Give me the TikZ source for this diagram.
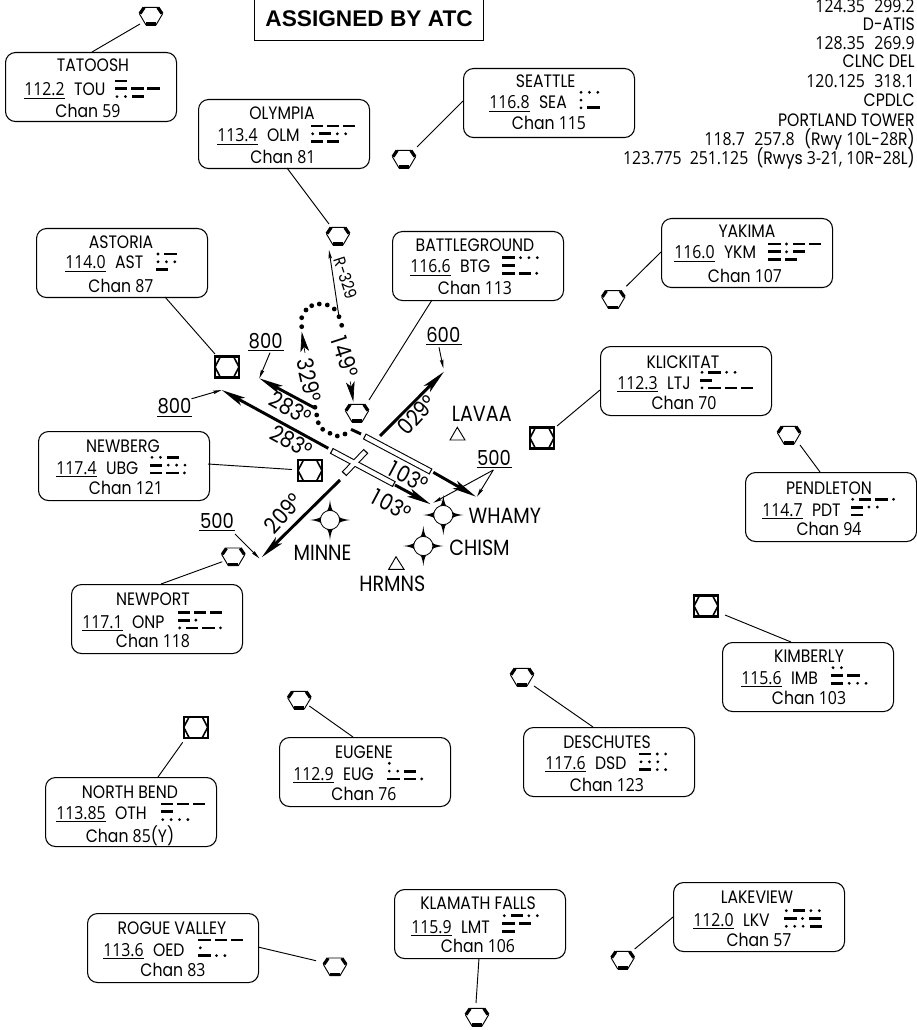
\documentclass[tikz,border=0pt]{standalone}
\usepackage{fontspec}
\setmainfont[FakeStretch=0.87]{Poppins}
\newfontfamily\numf[FakeStretch=0.88]{Open Sans}
\newfontfamily\boldf{Liberation Sans}
\usetikzlibrary{arrows.meta,calc}
\newsavebox\frqbox
\newcommand\frq[1]{\sbox\frqbox{\numf #1}\rlap{\rule[-2.4pt]{\wd\frqbox}{0.75pt}}\usebox\frqbox\hspace{7pt}}
\newcommand\chn[2][]{Chan {\numf #2}#1}
\newcommand\mrow[3]{\def\mx{#1}\def\my{#2}\mrowgo#3\relax}
\def\mrowgo#1{\ifx#1\relax\else\mel#1\expandafter\mrowgo\fi}
\def\mel#1{\if#1-\fill (\mx,\my-1.4) rectangle (\mx+12.3,\my+1.4);\pgfmathsetmacro\mx{\mx+16.2}\else\fill (\mx+2,\my) circle[radius=1.55];\pgfmathsetmacro\mx{\mx+8.4}\fi}
\newcommand\morse[5]{\mrow{#1}{#2}{#3}\mrow{#1}{#2+7.8}{#4}\mrow{#1}{#2+15.6}{#5}}
\newcommand\vorsym[3]{\node[symnode] (#1) at (#2,#3) {};
 \begin{scope}[shift={(#1)}]
 \draw[line width=.7pt] (-6.7,-8.7)--(6.7,-8.7)--(11.5,-2)--(5,9)--(-5,9)--(-11.5,-2)--cycle;
 \draw[line width=2.4pt] (-6.9,-8.4)--(-11,-2.4) (6.9,-8.4)--(11,-2.4);
 \draw[line width=2.4pt] (-5,8)--(5,8);
 \end{scope}}
\newcommand\sqsym[3]{\node[symnode] (#1) at (#2,#3) {};
 \begin{scope}[shift={(#1)}]
 \draw[line width=1.7pt] (-12,-10.5) rectangle (12,10.5);
 \draw[line width=1.2pt] (-12,0)--(-6.5,-10.5)--(6.5,-10.5)--(12,0)--(6.5,10.5)--(-6.5,10.5)--cycle;
 \end{scope}}
\newcommand\fixsym[3]{\node[symnode] (#1) at (#2,#3) {};
 \begin{scope}[shift={(#1)}]
 \fill (0,-20) .. controls (1,-12) and (2,-8) .. (6.8,-6.8) .. controls (8,-2) and (12,-1) .. (20,0)
  .. controls (12,1) and (8,2) .. (6.8,6.8) .. controls (2,8) and (1,12) .. (0,20)
  .. controls (-1,12) and (-2,8) .. (-6.8,6.8) .. controls (-8,2) and (-12,1) .. (-20,0)
  .. controls (-12,-1) and (-8,-2) .. (-6.8,-6.8) .. controls (-2,-8) and (-1,-12) .. (0,-20) -- cycle;
 \draw[fill=white,line width=.6pt] (0,0) circle[radius=9.6];
 \end{scope}}
\begin{document}
\begin{tikzpicture}[x=0.75pt,y=-0.75pt,
 navbox/.style={draw,line width=.8pt,rounded corners=7.5pt,minimum width=128.25pt,minimum height=51.75pt,anchor=north west,inner sep=0pt},
 navtitle/.style={anchor=base,inner sep=0pt,yshift=-.75pt,font=\fontsize{13.5}{15}\selectfont},
 navfreq/.style={anchor=base west,inner sep=0pt,yshift=-.75pt,font=\fontsize{13.5}{15}\selectfont},
 symnode/.style={inner sep=0pt,minimum size=15pt,circle},
 conn/.style={line width=.7pt},
 bigl/.style={inner sep=0pt,font=\fontsize{15.5}{18}\selectfont},
 rotl/.style={inner sep=0pt,font=\fontsize{17}{20}\selectfont},
 fixl/.style={anchor=base west,inner sep=0pt,font=\fontsize{16.5}{18}\selectfont},
 comm/.style={anchor=base east,inner sep=0pt,font=\fontsize{13.5}{15}\selectfont},
 heavy/.style={line width=2.2pt,-{Stealth[length=18pt,width=6.5pt,inset=4pt]}},
 thinar/.style={line width=.7pt,-{Stealth[length=6.5pt,width=2.6pt,inset=1pt]}},
 kite/.style={line width=.5pt,-{Stealth[length=15pt,width=6.5pt,inset=3.5pt]}},
 rwout/.style={line width=4.8pt,line cap=butt},
 rwin/.style={line width=3.2pt,white,line cap=butt}]
\useasboundingbox (0,0) rectangle (916,1030);

% comm
\node[comm] (c1) at (915,13) {\numf 124.35\hspace{7pt}299.2};
\node[comm] (c2) at (915,31) {D-ATIS};
\node[comm] (c3) at (915,50) {\numf 128.35\hspace{7pt}269.9};
\node[comm] (c4) at (915,68) {CLNC DEL};
\node[comm] (c5) at (915,88) {\numf 120.125\hspace{7pt}318.1};
\node[comm] (c6) at (915,107) {CPDLC};
\node[comm] (c7) at (915,127) {PORTLAND TOWER};
\node[comm] (c8) at (915,146) {{\numf 118.7\hspace{7pt}257.8}\hspace{7pt}(Rwy {\numf 10}L-{\numf 28}R)};
\node[comm] (c9) at (915,165) {{\numf 123.775\hspace{6pt}251.125}\hspace{6pt}(Rwys {\numf 3-21}, {\numf 10}R-{\numf 28}L)};

% assigned
\node[draw,line width=.9pt,minimum width=171.75pt,minimum height=33pt,anchor=south west,inner sep=0pt,font=\boldf\bfseries\fontsize{17}{19}\selectfont] (atc) at (254,41) {\raisebox{-6.4pt}[0pt][0pt]{ASSIGNED BY ATC}};

% symbols
\vorsym{vTOU}{151}{16}
\vorsym{vSEA}{404}{159}
\vorsym{vOLM}{338}{236}
\vorsym{vYKM}{613.3}{299.3}
\vorsym{vBTG}{357}{413}
\vorsym{vPDT}{789}{435}
\vorsym{vONP}{233.3}{556.7}
\vorsym{vEUG}{299.3}{700}
\vorsym{vDSD}{522}{677}
\vorsym{vOED}{335}{966.7}
\vorsym{vLMT}{477}{1017}
\vorsym{vLKV}{622.7}{960}
\sqsym{sAST}{227}{367}
\sqsym{sUBG}{310}{470.5}
\sqsym{sLTJ}{542}{438}
\sqsym{sIMB}{706}{606}
\sqsym{sOTH}{195.7}{727.3}

% boxes
\node[navbox] (TOU) at (5,52) {};
\node[navtitle] (TOUa) at (93,71) {TATOOSH};
\node[navfreq] (TOUb) at (24,95) {\frq{112.2}TOU};
\node[navtitle] (TOUc) at (88,117) {\chn{59}};
\morse{115}{81}{-}{---}{..-}

\node[navbox] (SEA) at (463,68) {};
\node[navtitle] (SEAa) at (545.7,87) {SEATTLE};
\node[navfreq] (SEAb) at (489,108) {\frq{116.8}SEA};
\node[navtitle] (SEAc) at (549,129) {\chn{115}};
\morse{579}{92.3}{...}{.}{.-}

\node[navbox] (OLM) at (198,99) {};
\node[navtitle] (OLMa) at (282,119) {OLYMPIA};
\node[navfreq] (OLMb) at (217,141) {\frq{113.4}OLM};
\node[navtitle] (OLMc) at (283,163) {\chn{81}};
\morse{310.7}{126}{---}{.-..}{--}

\node[navbox] (AST) at (36,228) {};
\node[navtitle] (ASTa) at (121,248) {ASTORIA};
\node[navfreq] (ASTb) at (65,268) {\frq{114.0}AST};
\node[navtitle] (ASTc) at (121,291) {\chn{87}};
\morse{156}{254}{.-}{...}{-}

\node[navbox] (BTG) at (392,231) {};
\node[navtitle] (BTGa) at (475,251) {BATTLEGROUND};
\node[navfreq] (BTGb) at (410,272) {\frq{116.6}BTG};
\node[navtitle] (BTGc) at (475,294) {\chn{113}};
\morse{502.3}{257.7}{-...}{-}{--.}

\node[navbox] (YKM) at (661,218) {};
\node[navtitle] (YKMa) at (747,237) {YAKIMA};
\node[navfreq] (YKMb) at (674,258) {\frq{116.0}YKM};
\node[navtitle] (YKMc) at (745,281) {\chn{107}};
\morse{768.3}{244}{-.--}{-.-}{--}

\node[navbox] (LTJ) at (600,346) {};
\node[navtitle] (LTJa) at (683,367) {KLICKITAT};
\node[navfreq] (LTJb) at (617,388) {\frq{112.3}LTJ};
\node[navtitle] (LTJc) at (684,408) {\chn{70}};
\morse{700}{372.3}{.-..}{-}{.---}

\node[navbox] (UBG) at (38,431) {};
\node[navtitle] (UBGa) at (123,451) {NEWBERG};
\node[navfreq] (UBGb) at (56,473) {\frq{117.4}UBG};
\node[navtitle] (UBGc) at (126,493) {\chn{121}};
\morse{150}{457.3}{..-}{-...}{--.}

\node[navbox] (PDT) at (745,472) {};
\node[navtitle] (PDTa) at (829,493) {PENDLETON};
\node[navfreq] (PDTb) at (762,515) {\frq{114.7}PDT};
\node[navtitle] (PDTc) at (829,534) {\chn{94}};
\morse{850.7}{499.3}{.--.}{-..}{-}

\node[navbox] (ONP) at (71,584) {};
\node[navtitle] (ONPa) at (153,604) {NEWPORT};
\node[navfreq] (ONPb) at (82,627) {\frq{117.1}ONP};
\node[navtitle] (ONPc) at (153,646) {\chn{118}};
\morse{177.7}{612.3}{---}{-.}{.--.}

\node[navbox] (IMB) at (722,642) {};
\node[navtitle] (IMBa) at (809,661) {KIMBERLY};
\node[navfreq] (IMBb) at (741,683) {\frq{115.6}IMB};
\node[navtitle] (IMBc) at (809,703) {\chn{103}};
\morse{831}{667.7}{..}{--}{-...}

\node[navbox] (DSD) at (523,727) {};
\node[navtitle] (DSDa) at (607,747) {DESCHUTES};
\node[navfreq] (DSDb) at (545,768) {\frq{117.6}DSD};
\node[navtitle] (DSDc) at (607,790) {\chn{123}};
\morse{639}{754}{-..}{...}{-..}

\node[navbox] (EUG) at (279,737) {};
\node[navtitle] (EUGa) at (364,757) {EUGENE};
\node[navfreq] (EUGb) at (293,779) {\frq{112.9}EUG};
\node[navtitle] (EUGc) at (364,799) {\chn{76}};
\morse{387.3}{763.3}{.}{..-}{--.}

\node[navbox] (OTH) at (45,777) {};
\node[navtitle] (OTHa) at (130,797) {NORTH BEND};
\node[navfreq] (OTHb) at (56,818) {\frq{113.85}OTH};
\node[navtitle] (OTHc) at (130,841) {\chn[(Y)]{85}};
\morse{160.7}{804}{---}{-}{....}

\node[navbox] (OED) at (87,913) {};
\node[navtitle] (OEDa) at (172,933) {ROGUE VALLEY};
\node[navfreq] (OEDb) at (103,955) {\frq{113.6}OED};
\node[navtitle] (OEDc) at (173,975) {\chn{83}};
\morse{198.3}{940}{---}{.}{-..}

\node[navbox] (LMT) at (394,889) {};
\node[navtitle] (LMTa) at (478,908) {KLAMATH FALLS};
\node[navfreq] (LMTb) at (411,932) {\frq{115.9}LMT};
\node[navtitle] (LMTc) at (478,951) {\chn{106}};
\morse{502.3}{915.7}{.-..}{--}{-}

\node[navbox] (LKV) at (673,882) {};
\node[navtitle] (LKVa) at (757,902) {LAKEVIEW};
\node[navfreq] (LKVb) at (693,925) {\frq{112.0}LKV};
\node[navtitle] (LKVc) at (759,945) {\chn{57}};
\morse{784.3}{910.7}{.-..}{-.-}{...-}

% connectors box -> facility
\draw[conn] ($(TOU.north west)+(87,0)$) -- ($(vTOU)+(-11,8)$);
\draw[conn] ($(SEA.north west)+(0,33)$) -- ($(vSEA)+(13,-12)$);
\draw[conn] ($(OLM.north west)+(89,69)$) -- ($(vOLM)+(-9,-12)$);
\draw[conn] ($(AST.north west)+(129,69)$) -- ($(sAST)+(-12,-13)$);
\draw[conn] ($(BTG.north west)+(40,69)$) -- ($(vBTG)+(12,-13)$);
\draw[conn] ($(YKM.north west)+(0,34)$) -- ($(vYKM)+(13,-13)$);
\draw[conn] ($(LTJ.north west)+(0,44)$) -- ($(sLTJ)+(15,-12)$);
\draw[conn] ($(UBG.north west)+(170,33)$) -- ($(sUBG)+(-18,-1)$);
\draw[conn] ($(PDT.north west)+(75,0)$) -- ($(vPDT)+(11,10)$);
\draw[conn] ($(IMB.north west)+(69,0)$) -- ($(sIMB)+(19,9)$);
\draw[conn] ($(ONP.north west)+(90,0)$) -- ($(vONP)+(-11,5)$);
\draw[conn] ($(EUG.north west)+(74,0)$) -- ($(vEUG)+(10,6)$);
\draw[conn] ($(OTH.north west)+(113,0)$) -- ($(sOTH)+(-13,15)$);
\draw[conn] ($(DSD.north west)+(70,0)$) -- ($(vDSD)+(12,9)$);
\draw[conn] ($(OED.north west)+(171,34)$) -- ($(vOED)+(-19,-6)$);
\draw[conn] ($(LMT.north west)+(85,69)$) -- ($(vLMT)+(-1,-14)$);
\draw[conn] ($(LKV.north west)+(0,35)$) -- ($(vLKV)+(12,-11)$);

% runways
\coordinate (r1a) at (364.3,436.3);
\coordinate (r1b) at (431,471.7);
\coordinate (r2a) at (331.3,450.7);
\coordinate (r2b) at (394.3,484.3);
\coordinate (r3a) at (366,451);
\coordinate (r3b) at (344,474);
\draw[rwout] (r1a) -- (r1b);
\draw[rwout] (r2a) -- (r2b);
\draw[rwout] (r3a) -- (r3b);
\draw[rwin] ($(r2a)!.018!(r2b)$) -- ($(r2a)!.982!(r2b)$);
\draw[rwin] ($(r1a)!.016!(r1b)$) -- ($(r1a)!.984!(r1b)$);
\draw[rwin] ($(r3a)!.04!(r3b)$) -- ($(r3a)!.96!(r3b)$);

% thick departure tracks
\coordinate (t1a) at (328.3,448.3); \coordinate (t1b) at (221.7,390);
\coordinate (t2a) at (314.3,407.7); \coordinate (t2b) at (259.3,378.3);
\coordinate (t3a) at (380,436);     \coordinate (t3b) at (444,371.7);
\coordinate (t4a) at (433.3,472.3); \coordinate (t4b) at (476,496.7);
\coordinate (t5a) at (395,485);     \coordinate (t5b) at (430.7,504.3);
\coordinate (t6a) at (340,480);     \coordinate (t6b) at (261.7,557.3);
\draw[heavy] (t1a) -- (t1b);
\draw[heavy] (t2a) -- (t2b);
\draw[heavy] (t3a) -- (t3b);
\draw[heavy] (t4a) -- (t4b);
\draw[heavy] (t5a) -- (t5b);
\draw[heavy] (t6a) -- (t6b);

% dotted turn
\draw[line width=2.2pt] (351,429.3) -- (361,434);
\foreach \p/\q in {345/434,337.3/436,330/433.3,322.7/429.3,318.3/422.7,316.7/415,315/407.3,
 301.7/326.7,301.7/317.7,306/310,311.7/305.7,319.3/304,327.3/305,334.3/309,339/316.7,341.7/325.3}
 \fill (\p,\q) circle[radius=2.4];
\coordinate (k1a) at (305,353); \coordinate (k1b) at (301.7,331.7);
\coordinate (k2a) at (350.2,381.5); \coordinate (k2b) at (353.3,401.7);
\draw[kite] (k1a) -- (k1b);
\draw[kite] (k2a) -- (k2b);
\coordinate (rr) at (339,316.7); \coordinate (rt) at (329,250);
\draw[thinar] (rr) -- (rt);

% altitude labels
\node[bigl] (a800b) at (174.5,405.8) {800};
\draw[line width=.7pt] (157,416) -- (192,416);
\node[bigl] (a800a) at (265.7,340.7) {800};
\draw[line width=.7pt] (248,350) -- (284,350);
\node[bigl] (a600) at (443.3,335) {600};
\draw[line width=.7pt] (426,344) -- (462,344);
\node[bigl] (a500a) at (494,457.7) {500};
\draw[line width=.7pt] (476.7,467.3) -- (511.7,467.3);
\node[bigl] (a500b) at (217,521) {500};
\draw[line width=.7pt] (199,530.5) -- (235,530.5);
\draw[thinar] ($(a800b)+(17,-7)$) -- (t1b);
\draw[thinar] (270,352.7) -- (t2b);
\draw[thinar] (439,347.3) -- (443.3,368.3);
\draw[thinar] (493.3,470) -- (477,496.7);
\draw[thinar] (493.3,470) -- (433.3,502.7);
\draw[thinar] (235,534) -- (259.3,558.3);

% rotated labels
\node[rotl,rotate=-29] (d1) at (290.7,408.3) {283°};
\node[rotl,rotate=-29] (d2) at (291.7,441.7) {283°};
\node[rotl,rotate=-28] (d3) at (408.3,476.7) {1\hspace{2pt}03°};
\node[rotl,rotate=-28] (d4) at (391.7,505) {1\hspace{2pt}03°};
\node[rotl,rotate=47] (d5) at (416.7,415) {029°};
\node[rotl,rotate=48] (d6) at (283.3,513.3) {209°};
\node[rotl,rotate=-77] (d7) at (309.3,380) {329°};
\node[rotl,rotate=-72] (d8) at (345,356.7) {1\hspace{2pt}49°};
\node[rotate=-72,inner sep=0pt,font=\fontsize{12.5}{14}\selectfont] (rlab) at (346,278.3) {R-329};

% fixes
\fixsym{fW}{443.3}{515}
\fixsym{fM}{330}{520}
\fixsym{fC}{423.3}{546}
\node[fixl] (nW) at (468.3,523.5) {WHAMY};
\node[fixl] (nC) at (449,555) {CHISM};
\node[fixl] (nM) at (293.3,560) {MINNE};
\node[fixl] (nH) at (359,591.7) {HRMNS};
\node[fixl] (nL) at (451.5,421) {LAVAA};
\draw[line width=.7pt] (457.3,427.3) -- (450,440) -- (465,440) -- cycle;
\draw[line width=.7pt] (396,556.7) -- (388.7,569.3) -- (404,569.3) -- cycle;
\end{tikzpicture}
\end{document}
